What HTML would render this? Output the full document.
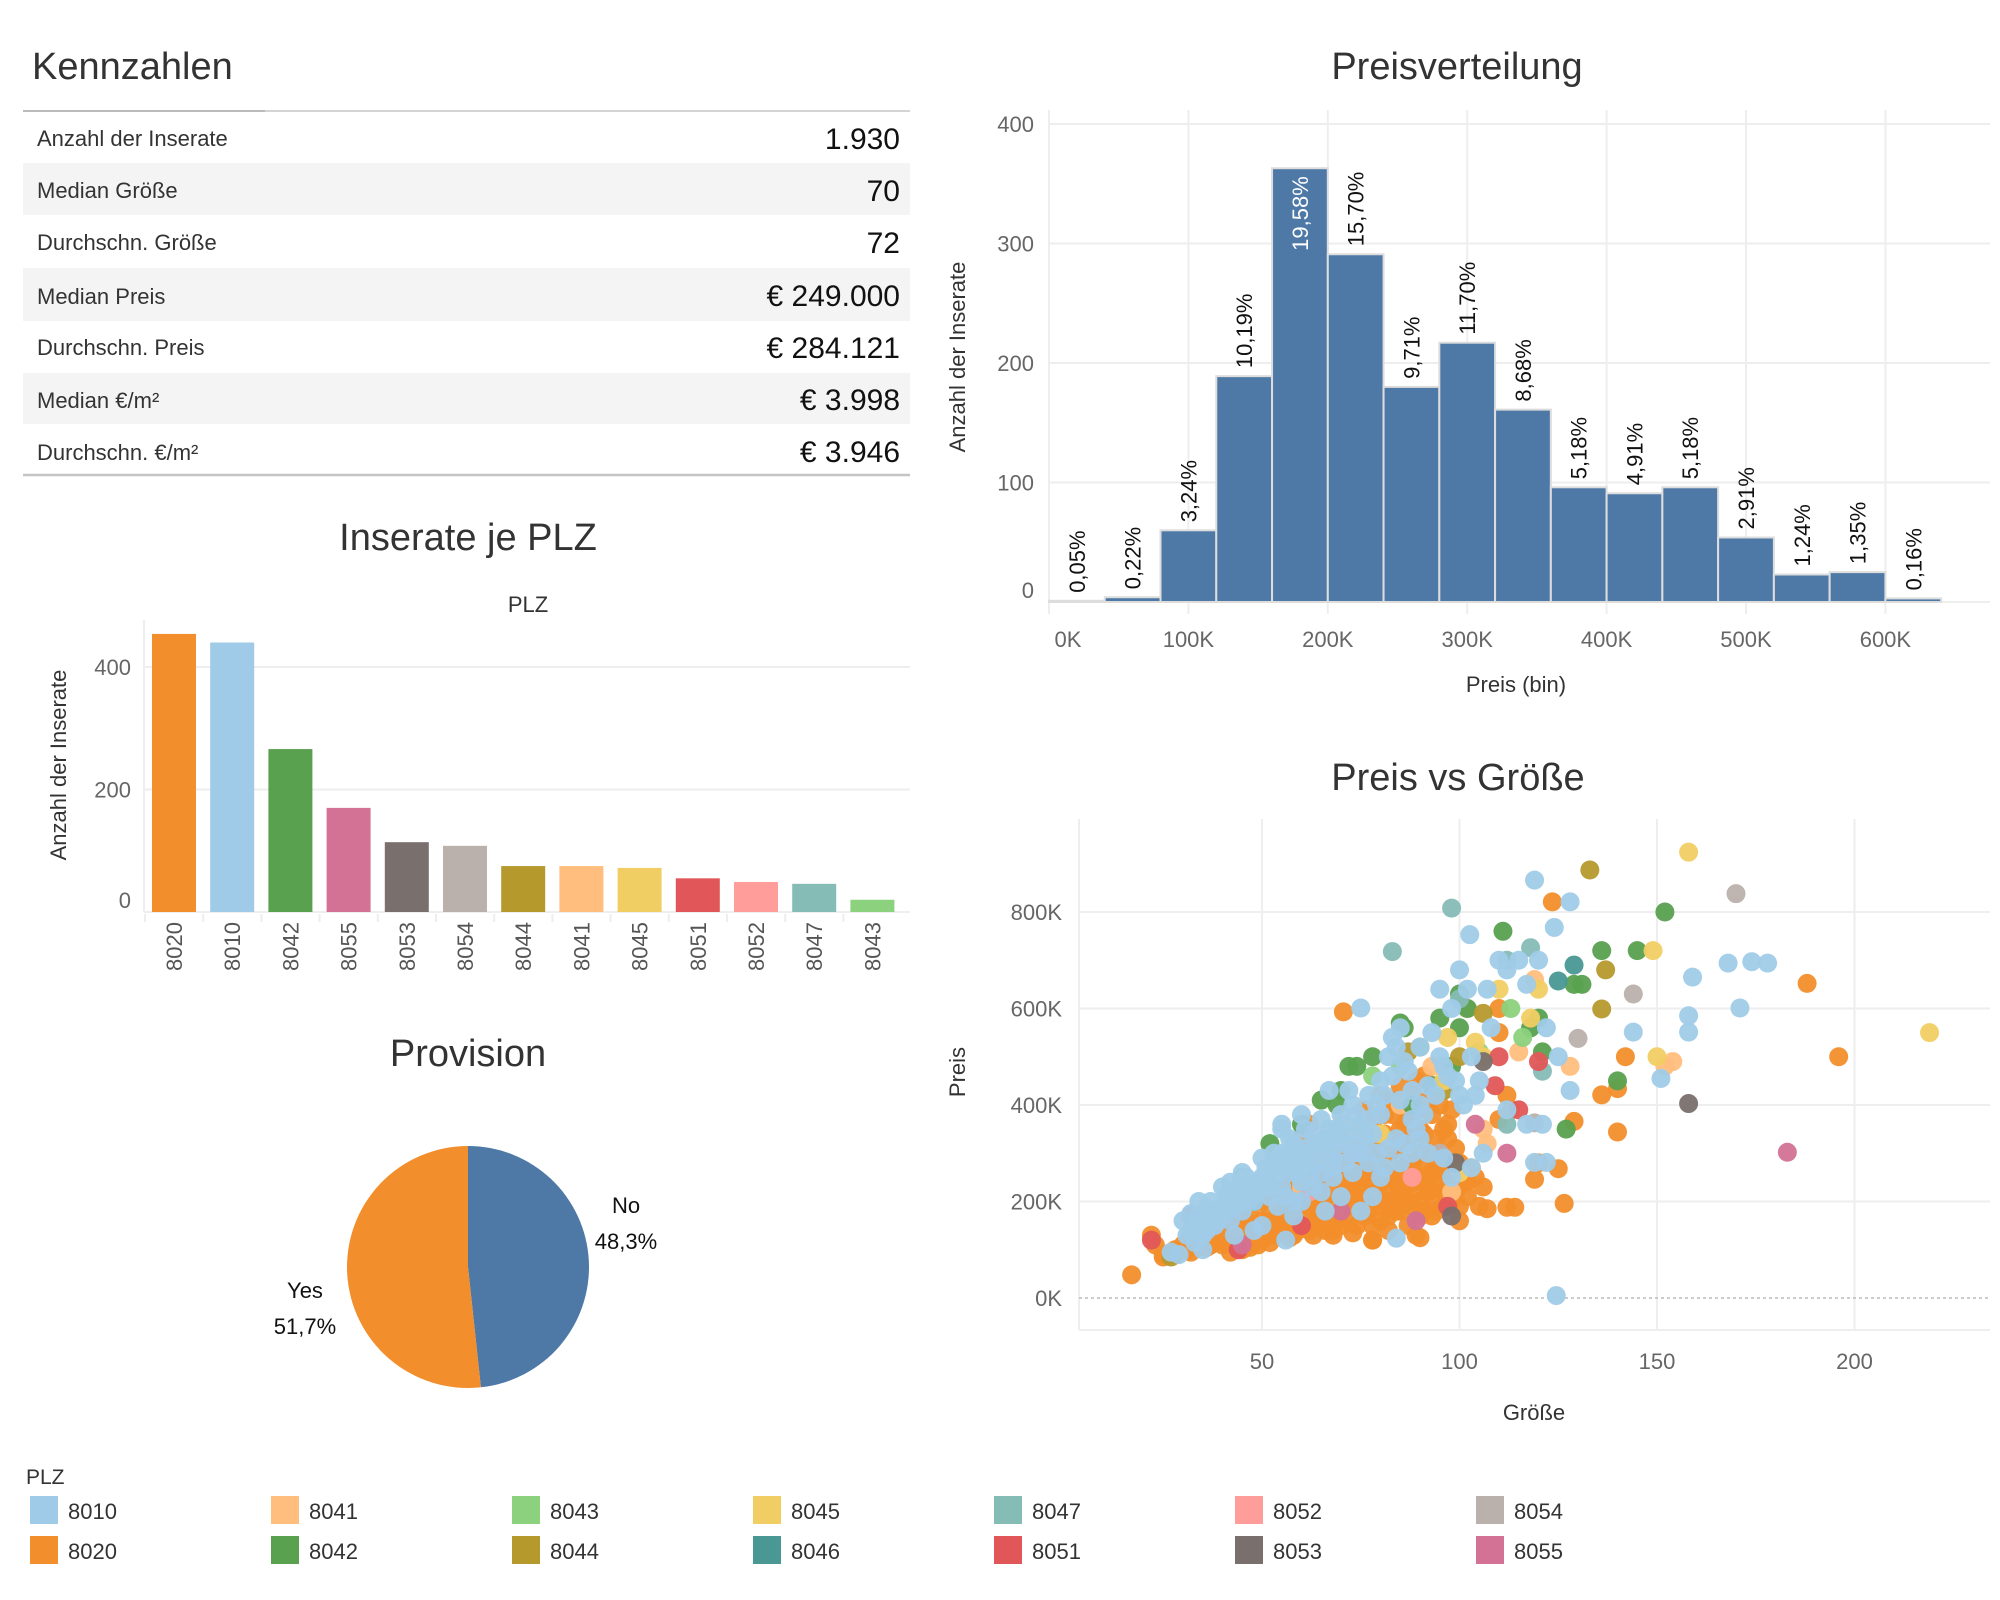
<!DOCTYPE html>
<html><head><meta charset="utf-8"><style>
body{margin:0;background:#fff;}
svg{display:block;font-family:"Liberation Sans",sans-serif;}
</style></head><body>
<svg id="root" width="2000" height="1600" viewBox="0 0 2000 1600">
<g>
<text x="32" y="79" font-size="38" fill="#333">Kennzahlen</text>
<rect x="23" y="163" width="887" height="52" fill="#f4f4f4"/>
<rect x="23" y="268" width="887" height="53" fill="#f4f4f4"/>
<rect x="23" y="373" width="887" height="51" fill="#f4f4f4"/>
<line x1="23" y1="111" x2="910" y2="111" stroke="#d4d4d4" stroke-width="2"/>
<line x1="23" y1="111" x2="265" y2="111" stroke="#bbb" stroke-width="2"/>
<line x1="23" y1="475" x2="910" y2="475" stroke="#c4c4c4" stroke-width="2.5"/>
<g font-size="22" fill="#333">
<text x="37" y="146">Anzahl der Inserate</text>
<text x="37" y="198">Median Größe</text>
<text x="37" y="250">Durchschn. Größe</text>
<text x="37" y="304">Median Preis</text>
<text x="37" y="355">Durchschn. Preis</text>
<text x="37" y="408">Median €/m²</text>
<text x="37" y="460">Durchschn. €/m²</text>
</g>
<g font-size="30" fill="#111" text-anchor="end">
<text x="900" y="149">1.930</text>
<text x="900" y="201">70</text>
<text x="900" y="253">72</text>
<text x="900" y="306">€ 249.000</text>
<text x="900" y="358">€ 284.121</text>
<text x="900" y="410">€ 3.998</text>
<text x="900" y="462">€ 3.946</text>
</g>
</g>
<g id="hist"></g>
<g id="bars"></g>
<g id="pie"></g>
<g id="scatter"></g>
<g id="legend"></g>
</svg>
<script>
const NS="http://www.w3.org/2000/svg";
// Histogram data
const histBins=[0,40,80,120,160,200,240,280,320,360,400,440,480,520,560,600];
const histCounts=[1,4,60,189,363,291,180,217,161,96,91,96,54,23,25,3];
const histLabels=["0,05%","0,22%","3,24%","10,19%","19,58%","15,70%","9,71%","11,70%","8,68%","5,18%","4,91%","5,18%","2,91%","1,24%","1,35%","0,16%"];
const histYTicks=[0,100,200,300,400];
const histXTicks=[0,100,200,300,400,500,600];
// PLZ bar data
const plzCats=["8020","8010","8042","8055","8053","8054","8044","8041","8045","8051","8052","8047","8043"];
const plzCounts=[454,440,266,170,114,108,75,75,72,55,49,46,20];
const plzYTicks=[0,200,400];
// Pie data
const pieCats=["No","Yes"];
const pieShares=[48.3,51.7];
// Scatter data: [size, price in K]
const pts8020=[[17,48],[22,130],[23,110],[25,85],[25,90],[28,100],[30,110],[32,95],[35,120],[38,130],[40,140],[42,115],[45,150],[45,100],[48,130],[50,160],[50,120],[52,180],[55,140],[55,200],[58,170],[58,130],[60,150],[60,210],[62,190],[62,140],[65,160],[65,230],[67,200],[68,140],[70,180],[70,250],[72,220],[72,160],[75,200],[75,270],[77,240],[78,150],[80,190],[80,300],[82,260],[83,220],[85,180],[85,320],[87,280],[88,240],[90,200],[90,350],[92,300],[93,260],[95,230],[95,400],[97,330],[98,200],[100,190],[100,280],[103,270],[105,190],[107,185],[110,370],[110,600],[112,420],[113,390],[40,110],[42,95],[47,105],[52,115],[57,125],[63,130],[68,130],[73,135],[78,120],[82,140],[87,150],[90,125],[93,170],[96,190],[53,210],[58,250],[63,270],[68,300],[73,320],[78,360],[83,380],[88,420],[91,460],[85,440],[80,420],[76,390],[70,330],[66,300],[60,280],[56,230],[50,200],[47,180],[44,170],[60,330],[62,360],[70,300],[74,260],[78,280],[84,240],[86,210],[92,220],[94,180],[99,220],[102,240],[96,260],[88,190],[82,170],[76,170],[70,150],[64,170],[57,160],[100,160],[90,170],[80,160],[89,130],[78,120],[123.5,821],[188,652],[196,500],[142,500],[140,434],[136,421],[129,366],[140,344],[125,268],[126.5,196],[119,246],[112,188],[114,188],[70.6,593],[110,550],[120,280],[83,200],[86,250],[91,270],[94,330],[97,360],[74,210],[66,210],[54,170],[48,150],[36,105],[33,125],
[44,130],[46,160],[49,110],[51,140],[53,130],[54,150],[56,180],[59,140],[59,190],[61,170],[61,230],[63,200],[64,150],[66,140],[66,250],[67,170],[69,160],[69,220],[71,200],[71,270],[72,190],[73,240],[74,150],[75,230],[76,200],[76,290],[77,180],[78,260],[79,220],[79,310],[80,240],[81,200],[81,340],[82,290],[83,250],[84,180],[84,310],[85,220],[86,270],[86,360],[87,200],[87,330],[88,280],[89,220],[89,390],[90,250],[90,300],[91,180],[91,340],[92,240],[93,210],[93,380],[94,270],[95,300],[96,220],[97,250],[98,280],[99,310],[101,240],[102,210],[104,250],[106,230],[65,190],[67,260],[69,280],[71,230],[73,290],[75,250],[77,300],[79,340],[81,380],[83,410],[85,350],[87,380],[89,450],[92,410],[94,440],[96,350],[98,390],[55,160],[57,190],[59,220],[62,250],[64,230],[46,130],[43,145],[39,120],[37,110],[34,105],[31,100],[28,90]];
const pts8041=[[115,510],[119,660],[102,600],[106,350],[107,320],[98,220],[93,480],[128,480],[154,490],[152,480],[100,260],[85,400],[75,350],[60,230]];
const pts8042=[[52,320],[55,280],[60,360],[65,410],[69,400],[72,480],[74,480],[78,500],[85,570],[86,560],[90,520],[95,580],[100,560],[100,630],[102,600],[111,760],[118,560],[120,580],[121,510],[129,650],[131,650],[136,720],[145,720],[152,800],[140,450],[127,350],[93,440],[88,400],[98,480],[45,250],[48,200],[70,430]];
const pts8043=[[113,600],[105,510],[116,540],[78,460],[85,480]];
const pts8044=[[133,887],[137,680],[136,599],[106,590],[87,510],[100,500],[27,85],[60,260],[96,430]];
const pts8045=[[158,924],[149,720],[110,640],[104,530],[120,640],[118,580],[97,540],[150,500],[219,550],[100,260],[80,340],[70,360],[96,450],[106,500]];
const pts8046=[[125,657],[129,690]];
const pts8047=[[83,718],[98,808],[118,726],[112,700],[121,470],[112,360],[100,620]];
const pts8051=[[110,500],[120,490],[115,390],[22,120],[32,170],[44,100],[97,190],[109,440],[60,150]];
const pts8052=[[75,300],[88,250],[62,220]];
const pts8053=[[158,403],[106,490],[99,280],[98,170]];
const pts8054=[[170,838],[144,630],[130,538],[119,363],[95,300]];
const pts8055=[[183,302],[112,300],[104,360],[70,180],[45,110],[89,160]];
const pts8010=[[30,160],[32,175],[33,150],[34,200],[36,140],[38,180],[40,190],[40,230],[42,160],[43,210],[45,260],[45,180],[47,230],[48,200],[50,250],[50,290],[52,210],[53,270],[55,300],[55,230],[57,260],[58,320],[60,280],[60,240],[62,300],[63,340],[65,260],[65,310],[67,350],[68,290],[70,380],[70,320],[72,340],[73,400],[75,360],[75,300],[77,420],[78,340],[80,380],[80,450],[82,500],[83,540],[85,410],[85,560],[87,470],[88,370],[90,400],[90,520],[92,440],[93,550],[95,500],[95,640],[97,460],[98,600],[100,680],[100,420],[102,640],[103,500],[105,450],[107,640],[108,560],[110,700],[112,680],[115,700],[117,650],[120,700],[122,560],[125,500],[128,430],[112,390],[117,360],[121,360],[55,360],[55,350],[60,380],[67,430],[72,430],[38,150],[43,130],[48,140],[56,120],[60,200],[65,220],[70,210],[75,180],[78,210],[80,250],[85,280],[88,300],[92,300],[96,290],[98,250],[103,270],[106,300],[41,180],[46,215],[52,240],[58,200],[63,230],[68,250],[73,260],[81,270],[33,115],[29,90],[27,95],[35,100],[50,150],[58,170],[66,180],[119,866],[128,821],[102.6,753],[124,768],[168,694],[174,697],[178,694],[159,665],[171,601],[158,585],[158,551],[144,551],[75,601],[151,455],[119,281],[122,281],[124.5,5],[84,124],[62,250],[68,270],[76,320],[84,330],[90,330],[44,230],[37,165],[31,130],[54,190],[59,300],[71,280],[79,300],
[34,170],[36,185],[37,200],[39,160],[41,210],[42,240],[44,195],[46,250],[47,205],[49,220],[51,270],[51,230],[53,250],[54,290],[56,270],[57,300],[59,260],[61,310],[62,280],[64,320],[66,330],[67,300],[69,350],[71,360],[72,320],[74,380],[76,340],[77,370],[79,400],[81,420],[83,460],[84,520],[86,490],[88,430],[89,350],[91,380],[94,420],[96,480],[99,450],[101,400],[104,420],[53,300],[57,330],[61,350],[65,370],[52,230],[56,210],[60,260],[64,280],[68,320],[73,300],[77,280],[82,310],[86,320],[40,170],[45,200],[49,240],[35,130],[32,140]];
const scatterXTicks=[50,100,150,200];
const scatterYTicks=[0,200,400,600,800];
const legendRow1=["8010","8041","8043","8045","8047","8052","8054"];
const legendRow2=["8020","8042","8044","8046","8051","8053","8055"];
const colors={"8010":"#a0cbe8","8020":"#f28e2b","8041":"#ffbe7d","8042":"#59a14f","8043":"#8cd17d","8044":"#b6992d","8045":"#f1ce63","8046":"#499894","8047":"#86bcb6","8051":"#e15759","8052":"#ff9d9a","8053":"#79706e","8054":"#bab0ac","8055":"#d37295"};

function mk(parent,tag,attrs,text){const e=document.createElementNS(NS,tag);for(const k in attrs)e.setAttribute(k,attrs[k]);if(text!==undefined)e.textContent=text;parent.appendChild(e);return e;}

// ---------- Histogram ----------
(function(){
const g=document.getElementById('hist');
const hx=v=>1049+v*1.394, hy=v=>602-v*1.195;
let t=mk(g,'text',{x:1457,y:79,'font-size':38,fill:'#333','text-anchor':'middle'},'Preisverteilung');


histYTicks.forEach(v=>{
 mk(g,'line',{x1:1049,x2:1990,y1:hy(v),y2:hy(v),stroke:'#eee','stroke-width':2});
 let l=mk(g,'text',{x:1034,y:hy(v)+(v===0?-4:8),'font-size':22,fill:'#666','text-anchor':'end'},String(v));
 
 
});
histXTicks.forEach(v=>{
 mk(g,'line',{x1:hx(v),x2:hx(v),y1:110,y2:614,stroke:'#eee','stroke-width':2});
 let l=mk(g,'text',{x:hx(v)+(v===0?19:0),y:647,'font-size':22,fill:'#666','text-anchor':'middle'},v+'K');
 
 
});
histBins.forEach((b,i)=>{
 const x0=hx(b),x1=hx(b+40),y=hy(histCounts[i]);
 let r=mk(g,'rect',{x:x0,y:y,width:x1-x0,height:602-y,fill:'#4e79a7',stroke:'#ddd','stroke-width':2});
 
 
 const inside=histCounts[i]>=Math.max(...histCounts);
 const cx=(x0+x1)/2+8, ly=inside?y+8:y-8;
 let l=mk(g,'text',{x:0,y:0,'font-size':22,fill:inside?'#fff':'#111','text-anchor':inside?'end':'start',transform:`translate(${cx},${ly}) rotate(-90)`},histLabels[i]);
 
 
});
let a=mk(g,'text',{x:1516,y:692,'font-size':22,fill:'#333','text-anchor':'middle'},'Preis (bin)');


let b=mk(g,'text',{x:0,y:0,'font-size':22,fill:'#333','text-anchor':'middle',transform:'translate(965,357) rotate(-90)'},'Anzahl der Inserate');


})();

// ---------- PLZ bars ----------
(function(){
const g=document.getElementById('bars');
const by=v=>912-v*0.6125, bx=i=>174+i*58.2;
let t=mk(g,'text',{x:468,y:550,'font-size':38,fill:'#333','text-anchor':'middle'},'Inserate je PLZ');


let p=mk(g,'text',{x:528,y:612,'font-size':22,fill:'#333','text-anchor':'middle'},'PLZ');


plzYTicks.forEach(v=>{
 mk(g,'line',{x1:144,x2:910,y1:by(v),y2:by(v),stroke:'#eee','stroke-width':2});
 let l=mk(g,'text',{x:131,y:by(v)+(v===0?-4:8),'font-size':22,fill:'#666','text-anchor':'end'},String(v));
 
 
});
mk(g,'line',{x1:144,x2:144,y1:620,y2:912,stroke:'#eee','stroke-width':2});
plzCats.forEach((c,i)=>{
 const y=by(plzCounts[i]);
 let r=mk(g,'rect',{x:bx(i)-22,y:y,width:44,height:912-y,fill:colors[c]});
 
 
 mk(g,'line',{x1:bx(i)-29,x2:bx(i)-29,y1:914,y2:922,stroke:'#eee','stroke-width':2});
 let l=mk(g,'text',{x:0,y:0,'font-size':22,fill:'#555','text-anchor':'end',transform:`translate(${bx(i)+8},922) rotate(-90)`},c);
 
 
});
let a=mk(g,'text',{x:0,y:0,'font-size':22,fill:'#333','text-anchor':'middle',transform:'translate(66,765) rotate(-90)'},'Anzahl der Inserate');


})();

// ---------- Pie ----------
(function(){
const g=document.getElementById('pie');
let t=mk(g,'text',{x:468,y:1066,'font-size':38,fill:'#333','text-anchor':'middle'},'Provision');


const cx=468,cy=1267,R=121,cols=['#4e79a7','#f28e2b'];
const total=pieShares.reduce((a,b)=>a+b,0);
let ang=0;
const labelPos=[[626,1205],[305,1290]];
pieShares.forEach((s,i)=>{
 const a0=ang/total*2*Math.PI, a1=(ang+s)/total*2*Math.PI; ang+=s;
 const x0=cx+R*Math.sin(a0),y0=cy-R*Math.cos(a0),x1=cx+R*Math.sin(a1),y1=cy-R*Math.cos(a1);
 let pth=mk(g,'path',{d:`M${cx},${cy}L${x0},${y0}A${R},${R} 0 ${a1-a0>Math.PI?1:0} 1 ${x1},${y1}Z`,fill:cols[i]});
 
 
 const [lx,ly]=labelPos[i];
 let l1=mk(g,'text',{x:lx,y:ly+8,'font-size':22,fill:'#111','text-anchor':'middle'},pieCats[i]);
 
 
 let l2=mk(g,'text',{x:lx,y:ly+44,'font-size':22,fill:'#111','text-anchor':'middle'},s.toFixed(1).replace('.',',')+'%');
 
 
});
})();

// ---------- Scatter ----------
(function(){
const g=document.getElementById('scatter');
const sx=v=>1262+(v-50)*3.95, sy=v=>1298-v*0.4825;
let t=mk(g,'text',{x:1458,y:790,'font-size':38,fill:'#333','text-anchor':'middle'},'Preis vs Größe');


mk(g,'line',{x1:1079,x2:1079,y1:819,y2:1330,stroke:'#eee','stroke-width':2});
mk(g,'line',{x1:1079,x2:1990,y1:1330,y2:1330,stroke:'#eee','stroke-width':2});
scatterXTicks.forEach(v=>{
 mk(g,'line',{x1:sx(v),x2:sx(v),y1:819,y2:1330,stroke:'#eee','stroke-width':2});
 let l=mk(g,'text',{x:sx(v),y:1369,'font-size':22,fill:'#666','text-anchor':'middle'},String(v));
 
 
});
scatterYTicks.forEach(v=>{
 if(v===0) mk(g,'line',{x1:1079,x2:1990,y1:sy(v),y2:sy(v),stroke:'#bbb','stroke-width':1.5,'stroke-dasharray':'3,3'});
 else mk(g,'line',{x1:1079,x2:1990,y1:sy(v),y2:sy(v),stroke:'#eee','stroke-width':2});
 let l=mk(g,'text',{x:1062,y:sy(v)+8,'font-size':22,fill:'#666','text-anchor':'end'},v+'K');
 
 
});
const sets=[["8020",pts8020],["8041",pts8041],["8042",pts8042],["8043",pts8043],["8044",pts8044],["8045",pts8045],["8046",pts8046],["8047",pts8047],["8051",pts8051],["8052",pts8052],["8053",pts8053],["8054",pts8054],["8055",pts8055],["8010",pts8010]];
sets.forEach(([c,arr])=>{
 arr.forEach(([s,p])=>{
  let d=mk(g,'circle',{cx:sx(s),cy:sy(p),r:9.5,fill:colors[c],'fill-opacity':0.95});
  
  
 });
});
let a=mk(g,'text',{x:1534,y:1420,'font-size':22,fill:'#333','text-anchor':'middle'},'Größe');


let b=mk(g,'text',{x:0,y:0,'font-size':22,fill:'#333','text-anchor':'middle',transform:'translate(965,1072) rotate(-90)'},'Preis');


})();

// ---------- Legend ----------
(function(){
const g=document.getElementById('legend');
let t=mk(g,'text',{x:26,y:1484,'font-size':21,fill:'#333'},'PLZ');


[[legendRow1,1496],[legendRow2,1536]].forEach(([row,y])=>{
 row.forEach((c,i)=>{
  const x=30+i*241;
  let s=mk(g,'rect',{x:x,y:y,width:28,height:28,fill:colors[c]});
  
  
  let l=mk(g,'text',{x:x+38,y:y+23,'font-size':22,fill:'#333'},c);
  
  
 });
});
})();
</script>
</body></html>
